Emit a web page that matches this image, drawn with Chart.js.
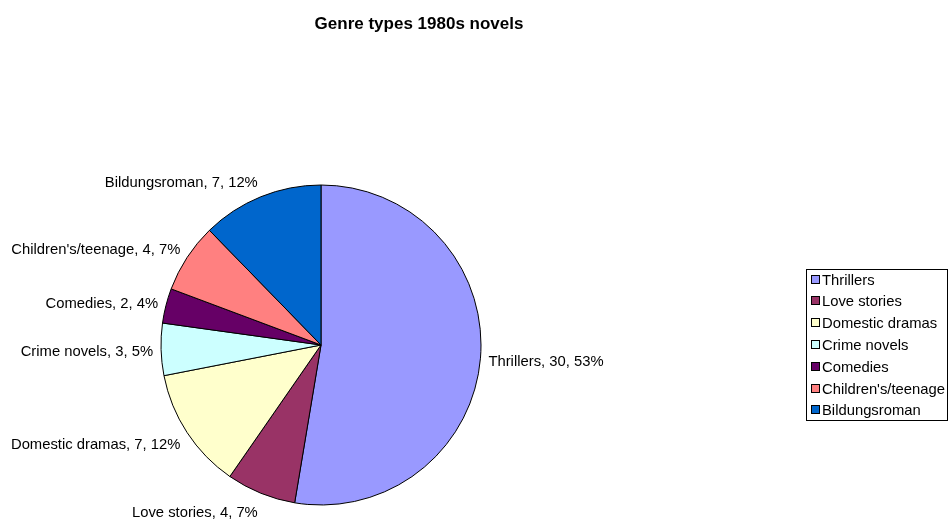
<!DOCTYPE html>
<html>
<head>
<meta charset="utf-8">
<script src="https://cdn.jsdelivr.net/npm/chart.js@4/dist/chart.umd.min.js"></script>
<style>
  html, body { margin: 0; padding: 0; background: #fff; }
  #wrap { width: 949px; height: 519px; position: relative; }
</style>
</head>
<body>
<div id="wrap"><canvas id="pieChart" width="949" height="519"></canvas></div>
<script>
// ===== Genre pie =====

const chartTitle = 'Genre types 1980s novels';
const genres = ['Thrillers', 'Love stories', 'Domestic dramas', 'Crime novels', 'Comedies', "Children's/teenage", 'Bildungsroman'];
const counts = [30, 4, 7, 3, 2, 4, 7];
const colors = ['#9999ff', '#993366', '#ffffcc', '#ccffff', '#660066', '#ff8080', '#0066cc'];

const FONT = '"Liberation Sans", Arial, sans-serif';

// Excel-ish labels outside each slice + title + boxed legend
const excelDecor = {
  id: 'excelDecor',
  afterDraw(chart) {
    const ctx = chart.ctx;
    const meta = chart.getDatasetMeta(0);
    const total = counts.reduce((a, b) => a + b, 0);

    ctx.save();
    ctx.fillStyle = '#000';

    // title
    ctx.font = 'bold 17px ' + FONT;
    ctx.textAlign = 'center';
    ctx.textBaseline = 'middle';
    ctx.fillText(chartTitle, 419, 24);

    // slice labels
    ctx.font = '14.8px ' + FONT;
    meta.data.forEach((arc, i) => {
      const p = arc.getProps(['x', 'y', 'startAngle', 'endAngle', 'outerRadius'], true);
      const mid = (p.startAngle + p.endAngle) / 2;
      const cos = Math.cos(mid), sin = Math.sin(mid);
      const x = p.x + (p.outerRadius + 8) * cos;
      const y = p.y + 2.5 + (p.outerRadius + 18) * sin;
      const pct = Math.round(counts[i] / total * 100);
      ctx.textAlign = cos < 0 ? 'right' : 'left';
      ctx.fillText(`${genres[i]}, ${counts[i]}, ${pct}%`, x, y);
    });

    // legend box
    const lx = 806.5, ly = 269.5, lw = 141, lh = 151;
    ctx.strokeStyle = '#000';
    ctx.lineWidth = 1;
    ctx.strokeRect(lx, ly, lw, lh);
    ctx.textAlign = 'left';
    genres.forEach((g, i) => {
      const cy = 279.5 + i * 21.8;
      const sy = Math.round(cy) - 4.5;
      ctx.fillStyle = colors[i];
      ctx.fillRect(811.5, sy, 8, 8);
      ctx.strokeRect(811.5, sy, 8, 8);
      ctx.fillStyle = '#000';
      ctx.fillText(g, 822, cy + 1);
    });
    ctx.restore();
  }
};

new Chart(document.getElementById('pieChart').getContext('2d'), {
  type: 'pie',
  data: {
    labels: genres,
    datasets: [{
      data: counts,
      backgroundColor: colors,
      borderColor: '#000',
      borderWidth: 1,
      borderAlign: 'center',
      hoverOffset: 0
    }]
  },
  options: {
    responsive: false,
    animation: false,
    events: [],
    radius: 160,
    layout: { padding: { left: 161, right: 468, top: 185, bottom: 14 } },
    plugins: {
      legend: { display: false },
      title: { display: false },
      tooltip: { enabled: false }
    }
  },
  plugins: [excelDecor]
});
</script>
</body>
</html>
